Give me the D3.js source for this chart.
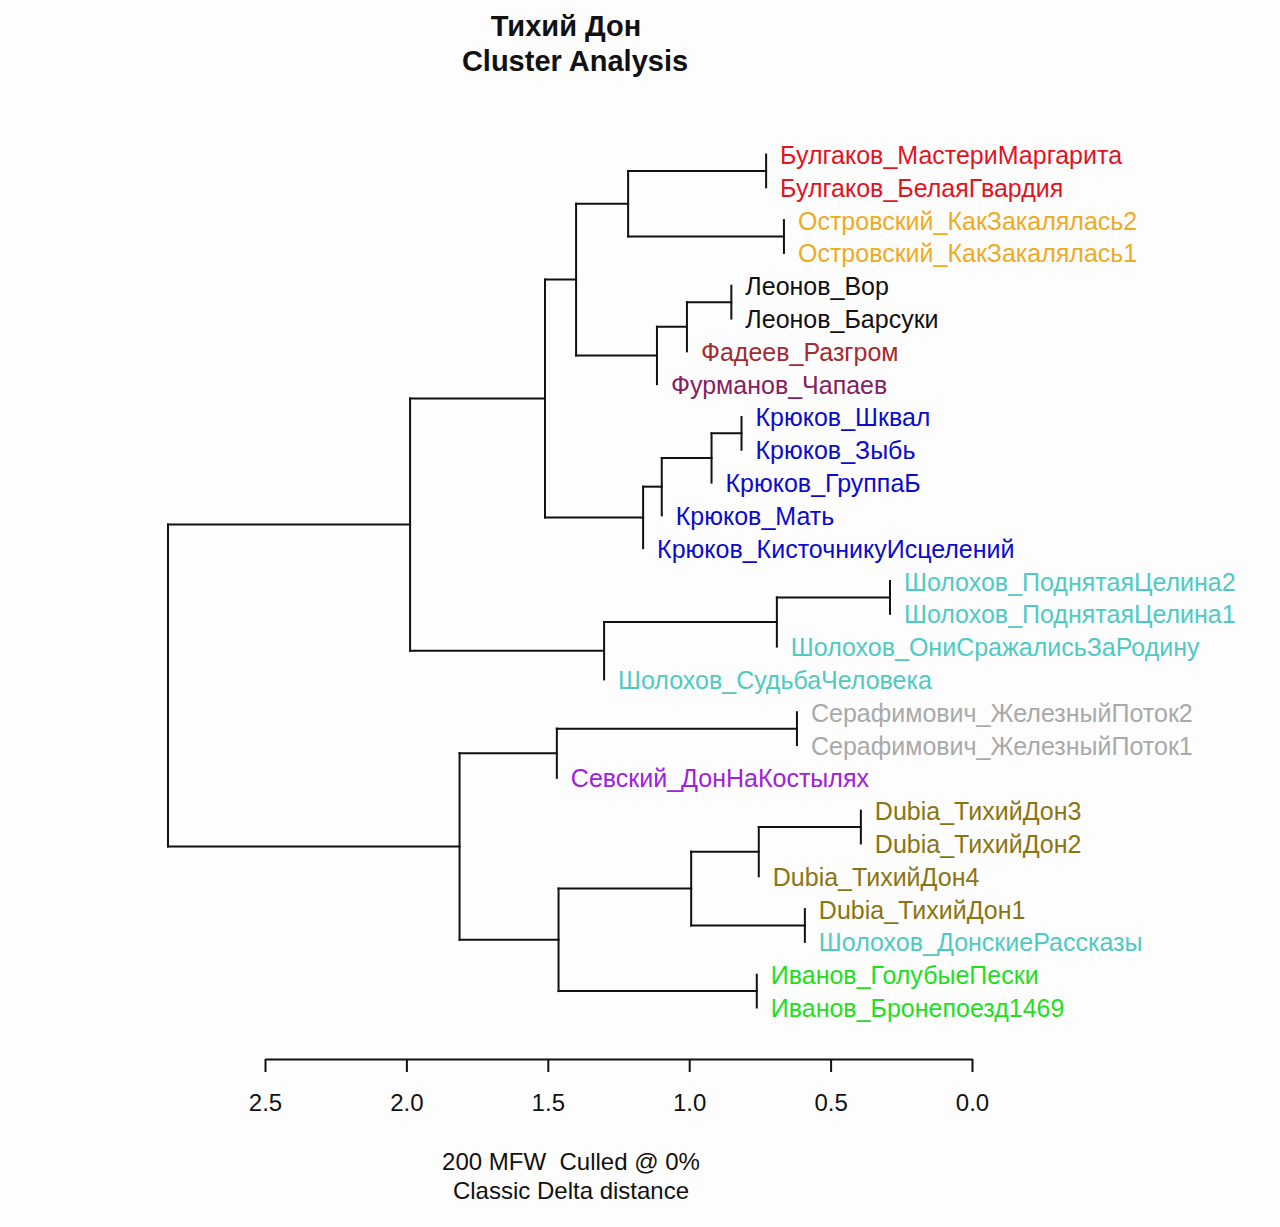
<!DOCTYPE html>
<html>
<head>
<meta charset="utf-8">
<script src="https://cdn.jsdelivr.net/npm/d3@7"></script>
<style>
  html, body { margin: 0; padding: 0; background: #fdfdfd; }
  svg { display: block; font-family: "Liberation Sans", Arial, Helvetica, sans-serif; }
  text { white-space: pre; }
</style>
</head>
<body>
<svg id="chart" width="1280" height="1227"></svg>
<script>
// ---- data ----
const leafLabels = [
  "Булгаков_МастериМаргарита",
  "Булгаков_БелаяГвардия",
  "Островский_КакЗакалялась2",
  "Островский_КакЗакалялась1",
  "Леонов_Вор",
  "Леонов_Барсуки",
  "Фадеев_Разгром",
  "Фурманов_Чапаев",
  "Крюков_Шквал",
  "Крюков_Зыбь",
  "Крюков_ГруппаБ",
  "Крюков_Мать",
  "Крюков_КисточникуИсцелений",
  "Шолохов_ПоднятаяЦелина2",
  "Шолохов_ПоднятаяЦелина1",
  "Шолохов_ОниСражалисьЗаРодину",
  "Шолохов_СудьбаЧеловека",
  "Серафимович_ЖелезныйПоток2",
  "Серафимович_ЖелезныйПоток1",
  "Севский_ДонНаКостылях",
  "Dubia_ТихийДон3",
  "Dubia_ТихийДон2",
  "Dubia_ТихийДон4",
  "Dubia_ТихийДон1",
  "Шолохов_ДонскиеРассказы",
  "Иванов_ГолубыеПески",
  "Иванов_Бронепоезд1469"
];

// hclust-style merges: negative = leaf (1-based), positive = earlier merge (1-based)
const mergeLeft  = [-1, -3, 1, -5, 4, 5, 3, -9, 8, 9, 10, 7, -14, 13, 14, 12, -18, 17, -21, 19, -24, 20, -26, 22, 18, 16];
const mergeRight = [-2, -4, 2, -6, -7, -8, 6, -10, -11, -12, -13, 11, -15, -16, -17, 15, -19, -20, -22, -23, -25, 21, -27, 23, 24, 25];
const mergeHeight = [0.728, 0.665, 1.216, 0.851, 1.008, 1.114, 1.400, 0.815, 0.921, 1.097, 1.163, 1.510,
                     0.290, 0.690, 1.301, 1.987, 0.619, 1.468, 0.393, 0.754, 0.591, 0.993, 0.761, 1.462, 1.812, 2.843];

const axisTicks = [2.5, 2.0, 1.5, 1.0, 0.5, 0.0];
const titleLines = ["Тихий Дон", "Cluster Analysis"];
const subLines = ["200 MFW  Culled @ 0%", "Classic Delta distance"];

const authorColors = {
  "Булгаков": "#e3141f",
  "Островский": "#f0aa22",
  "Леонов": "#111111",
  "Фадеев": "#a52a2f",
  "Фурманов": "#86215f",
  "Крюков": "#0b0bd0",
  "Шолохов": "#4fcac3",
  "Серафимович": "#a9a9a9",
  "Севский": "#a020e0",
  "Dubia": "#8b7512",
  "Иванов": "#1ee01e"
};

// ---- layout ----
const svg = d3.select("#chart");
const x = d3.scaleLinear().domain([2.5, 0]).range([265, 972]);
const y = d3.scaleLinear().domain([1, leafLabels.length]).range([154.5, 1007.5]);

const n = mergeHeight.length;
const nodeX = new Array(n + 1);
const nodeY = new Array(n + 1);
const leafX = new Array(leafLabels.length + 1);

function childY(c) { return c < 0 ? y(-c) : nodeY[c]; }

for (let i = 1; i <= n; i++) {
  const l = mergeLeft[i - 1], r = mergeRight[i - 1];
  nodeX[i] = x(mergeHeight[i - 1]);
  nodeY[i] = (childY(l) + childY(r)) / 2;
  if (l < 0) leafX[-l] = nodeX[i];
  if (r < 0) leafX[-r] = nodeX[i];
}

const segs = [];
for (let i = 1; i <= n; i++) {
  const l = mergeLeft[i - 1], r = mergeRight[i - 1];
  segs.push([nodeX[i], childY(l), nodeX[i], childY(r)]);
  [l, r].forEach(c => {
    if (c > 0) segs.push([nodeX[i], nodeY[c], nodeX[c], nodeY[c]]);
  });
}

svg.append("g")
  .attr("stroke", "#111")
  .attr("stroke-width", 2)
  .attr("stroke-linecap", "square")
  .selectAll("line")
  .data(segs)
  .join("line")
  .attr("x1", d => d[0]).attr("y1", d => d[1])
  .attr("x2", d => d[2]).attr("y2", d => d[3]);

svg.append("g")
  .selectAll("text")
  .data(leafLabels)
  .join("text")
  .attr("x", (d, i) => leafX[i + 1] + 14)
  .attr("y", (d, i) => y(i + 1))
  .attr("dy", "0.38em")
  .attr("font-size", 25)
  .attr("fill", d => authorColors[d.split("_")[0]] || "#000")
  .text(d => d);

// ---- axis ----
const axis = d3.axisBottom(x)
  .tickValues(axisTicks)
  .tickFormat(d3.format(".1f"))
  .tickSize(13)
  .tickSizeOuter(0)
  .tickPadding(22);

const ag = svg.append("g")
  .attr("transform", "translate(0,1059)")
  .call(axis);
ag.select(".domain").attr("stroke", "#111").attr("stroke-width", 2);
ag.selectAll(".tick line").attr("stroke", "#111").attr("stroke-width", 2);
ag.selectAll(".tick text")
  .attr("font-size", 24)
  .attr("font-family", "'Liberation Sans', Arial, sans-serif")
  .attr("fill", "#111");

// ---- titles ----
svg.append("g")
  .selectAll("text")
  .data(titleLines)
  .join("text")
  .attr("x", (d, i) => i === 0 ? 566 : 575)
  .attr("y", (d, i) => 36 + i * 35)
  .attr("text-anchor", "middle")
  .attr("font-size", 29)
  .attr("font-weight", "bold")
  .attr("fill", "#111")
  .text(d => d);

svg.append("g")
  .selectAll("text")
  .data(subLines)
  .join("text")
  .attr("x", 571)
  .attr("y", (d, i) => 1170 + i * 29)
  .attr("text-anchor", "middle")
  .attr("font-size", 24)
  .attr("fill", "#111")
  .text(d => d);
</script>
</body>
</html>
